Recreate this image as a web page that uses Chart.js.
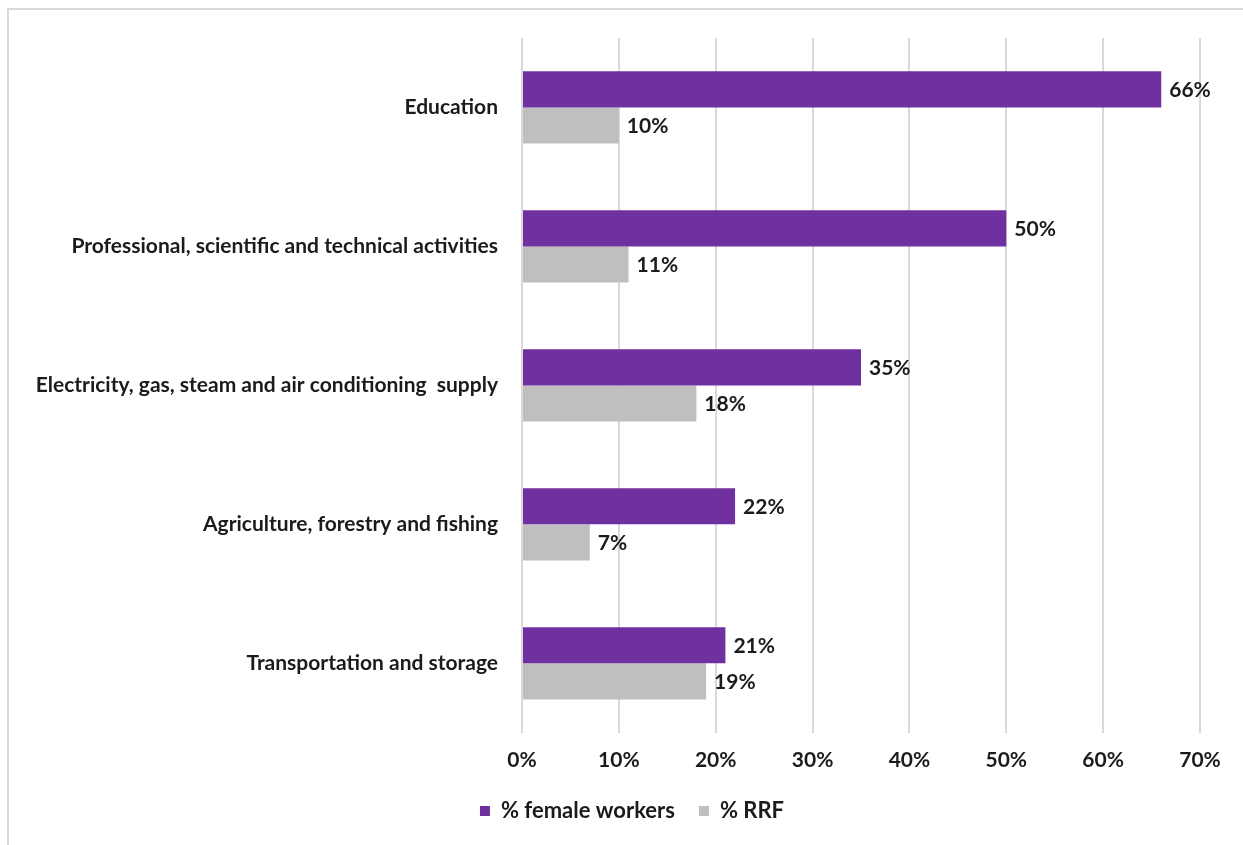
<!DOCTYPE html>
<html>
<head>
<meta charset="utf-8">
<script src="https://cdn.jsdelivr.net/npm/chart.js@4"></script>
<style>
  html, body { margin: 0; padding: 0; background: #fff; }
  #wrap { position: relative; width: 1243px; height: 845px; overflow: hidden; }
  #frame { position: absolute; left: 7px; top: 8px; width: 1260px; height: 860px;
           border-left: 2px solid #d9d9d9; border-top: 2px solid #d9d9d9; box-sizing: border-box; }
  canvas { position: absolute; left: 0; top: 0; }
</style>
</head>
<body>
<div id="wrap">
  <div id="frame"></div>
  <canvas id="sectorChart" width="1243" height="845"></canvas>
</div>
<script>
const sectors = [
  'Education',
  'Professional, scientific and technical activities',
  'Electricity, gas, steam and air conditioning  supply',
  'Agriculture, forestry and fishing',
  'Transportation and storage'
];
const femaleWorkers = [66, 50, 35, 22, 21];
const rrf = [10, 11, 18, 7, 19];
const xTicks = [0, 10, 20, 30, 40, 50, 60, 70];

const textColor = '#1b1b1b';
const labelFont = { family: 'Lato', size: 21, weight: 'bold' };
const legendFont = { family: 'Lato', size: 22, weight: 'bold' };

// value labels just past the end of each bar
const barLabels = {
  id: 'barLabels',
  afterDatasetsDraw(chart) {
    const ctx = chart.ctx;
    ctx.save();
    ctx.font = `bold ${labelFont.size}px ${labelFont.family}`;
    ctx.fillStyle = textColor;
    ctx.textAlign = 'left';
    ctx.textBaseline = 'middle';
    chart.data.datasets.forEach((ds, i) => {
      chart.getDatasetMeta(i).data.forEach((bar, j) => {
        ctx.fillText(ds.data[j] + '%', bar.x + 8, bar.y + 1);
      });
    });
    ctx.restore();
  }
};

// nudge the legend a little up and to the right of its default slot
const legendShift = {
  id: 'legendShift',
  afterLayout(chart) {
    const lg = chart.legend;
    lg.top -= 13; lg.bottom -= 13;
    lg.left += 32; lg.right += 32;
  }
};

new Chart(document.getElementById('sectorChart'), {
  type: 'bar',
  data: {
    labels: sectors,
    datasets: [
      { label: '% female workers', data: femaleWorkers, backgroundColor: '#7030a0' },
      { label: '% RRF', data: rrf, backgroundColor: '#bfbfbf' }
    ]
  },
  options: {
    indexAxis: 'y',
    responsive: false,
    animation: false,
    layout: { padding: { top: 38, right: 43, bottom: 0, left: 0 } },
    datasets: { bar: { barPercentage: 1, categoryPercentage: 0.52 } },
    scales: {
      x: {
        min: 0,
        max: 70,
        afterBuildTicks(scale) { scale.ticks = xTicks.map(v => ({ value: v })); },
        afterFit(scale) { scale.height += 1; },
        grid: { color: '#d9d9d9', lineWidth: 2, drawTicks: false },
        border: { display: false },
        ticks: { color: textColor, font: labelFont, padding: 15, callback: v => v + '%' }
      },
      y: {
        afterFit(scale) { scale.width = 522; },
        grid: { display: false, drawTicks: false },
        border: { display: false },
        ticks: { color: textColor, font: labelFont, padding: 24 }
      }
    },
    plugins: {
      legend: {
        position: 'bottom',
        labels: { color: textColor, font: legendFont, boxWidth: 10, boxHeight: 10, padding: 24 }
      },
      tooltip: { enabled: false }
    }
  },
  plugins: [barLabels, legendShift]
});
</script>
</body>
</html>
